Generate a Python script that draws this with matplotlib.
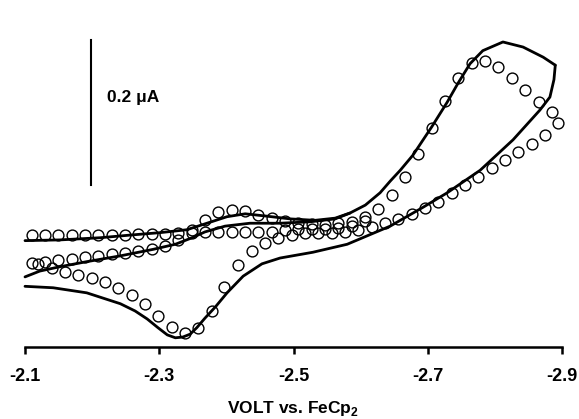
import matplotlib
matplotlib.use("Agg")
import matplotlib.pyplot as plt

plt.rcParams['font.family'] = ['Liberation Sans', 'DejaVu Sans']
plt.rcParams['font.weight'] = 'bold'
plt.rcParams['mathtext.fontset'] = 'custom'
plt.rcParams['mathtext.rm'] = 'Liberation Sans:bold'
plt.rcParams['mathtext.bf'] = 'Liberation Sans:bold'

# ---- experimental CV (solid line), potential in V vs FeCp2, current in uA ----
# first cathodic sweep
exp_fwd1_v = [-2.100, -2.152, -2.212, -2.261, -2.301, -2.341, -2.371, -2.401, -2.428,
              -2.458, -2.495, -2.532, -2.562, -2.584, -2.607, -2.629, -2.644, -2.659,
              -2.678, -2.706, -2.729, -2.745, -2.763, -2.782, -2.812, -2.842, -2.872,
              -2.890]
exp_fwd1_i = [0.006, 0.007, 0.010, 0.014, 0.017, 0.021, 0.030, 0.039, 0.043,
              0.040, 0.036, 0.034, 0.037, 0.044, 0.055, 0.072, 0.088, 0.103,
              0.124, 0.163, 0.197, 0.223, 0.250, 0.268, 0.280, 0.273, 0.259,
              0.248]
# reverse (anodic) sweep
exp_rev_v = [-2.890, -2.888, -2.882, -2.867, -2.827, -2.778, -2.729, -2.693, -2.644,
             -2.580, -2.529, -2.480, -2.453, -2.425, -2.401, -2.384, -2.368, -2.356,
             -2.346, -2.335, -2.324, -2.312, -2.298, -2.282, -2.264, -2.242, -2.192,
             -2.142, -2.100]
exp_rev_i = [0.248, 0.228, 0.204, 0.186, 0.145, 0.103, 0.072, 0.052, 0.026,
             0.001, -0.010, -0.018, -0.026, -0.043, -0.066, -0.085, -0.101, -0.114,
             -0.123, -0.127, -0.128, -0.124, -0.114, -0.102, -0.091, -0.081, -0.066,
             -0.059, -0.057]
# second cathodic sweep
exp_fwd2_v = [-2.100, -2.122, -2.152, -2.192, -2.242, -2.291, -2.324, -2.349, -2.368,
              -2.398, -2.435, -2.480, -2.525, -2.562, -2.584]
exp_fwd2_i = [-0.044, -0.036, -0.030, -0.023, -0.015, -0.006, 0.001, 0.010, 0.018,
              0.026, 0.030, 0.030, 0.032, 0.036, 0.044]

# ---- simulated CV (open circles) ----
sim_fwd1_v = [-2.110, -2.130, -2.149, -2.170, -2.189, -2.209, -2.230, -2.249, -2.268,
              -2.289, -2.309, -2.328, -2.349, -2.368, -2.388, -2.408, -2.428, -2.447,
              -2.468, -2.487, -2.507, -2.528, -2.547, -2.566, -2.587, -2.607, -2.626,
              -2.647, -2.666, -2.685, -2.706, -2.726, -2.745, -2.766, -2.785, -2.805,
              -2.826, -2.845, -2.866, -2.885, -2.894]
sim_fwd1_i = [0.014, 0.014, 0.014, 0.014, 0.014, 0.014, 0.014, 0.014, 0.015,
              0.015, 0.015, 0.017, 0.021, 0.034, 0.046, 0.048, 0.047, 0.041,
              0.037, 0.033, 0.030, 0.029, 0.028, 0.030, 0.032, 0.039, 0.050,
              0.069, 0.094, 0.126, 0.161, 0.199, 0.230, 0.251, 0.254, 0.246,
              0.230, 0.214, 0.197, 0.183, 0.168]
sim_rev_v = [-2.875, -2.855, -2.835, -2.815, -2.796, -2.775, -2.756, -2.736, -2.715,
             -2.696, -2.677, -2.656, -2.636, -2.617, -2.596, -2.577, -2.557, -2.537,
             -2.517, -2.498, -2.477, -2.458, -2.438, -2.417, -2.397, -2.379, -2.358,
             -2.338, -2.319, -2.298, -2.279, -2.259, -2.239, -2.219, -2.200, -2.179,
             -2.160, -2.140, -2.119]
sim_rev_i = [0.152, 0.139, 0.128, 0.117, 0.106, 0.094, 0.083, 0.072, 0.059,
             0.051, 0.043, 0.036, 0.030, 0.025, 0.021, 0.018, 0.017, 0.017,
             0.017, 0.014, 0.010, 0.003, -0.008, -0.028, -0.058, -0.091, -0.114,
             -0.121, -0.113, -0.098, -0.081, -0.069, -0.059, -0.051, -0.046, -0.041,
             -0.037, -0.032, -0.026]
sim_fwd2_v = [-2.110, -2.130, -2.149, -2.170, -2.189, -2.209, -2.230, -2.249, -2.268,
              -2.289, -2.309, -2.328, -2.349, -2.368, -2.388, -2.408, -2.428, -2.447,
              -2.468, -2.487, -2.507, -2.528, -2.547, -2.566, -2.587, -2.607]
sim_fwd2_i = [-0.025, -0.023, -0.021, -0.019, -0.017, -0.015, -0.012, -0.011, -0.008,
              -0.006, -0.001, 0.007, 0.017, 0.018, 0.018, 0.018, 0.018, 0.018,
              0.018, 0.021, 0.022, 0.022, 0.022, 0.023, 0.026, 0.033]

xticks = [-2.1, -2.3, -2.5, -2.7, -2.9]
xtick_labels = ['-2.1', '-2.3', '-2.5', '-2.7', '-2.9']

# scale bar: 0.2 uA
bar_v = -2.198
bar_i = [0.083, 0.283]

fig = plt.figure(figsize=(5.79, 4.19), dpi=100)
ax = fig.add_axes([25 / 579, 72 / 419, 537 / 579, 327 / 419])

line_kw = dict(color='black', lw=2.0, solid_capstyle='round', solid_joinstyle='round', clip_on=False)
ax.plot(exp_fwd1_v, exp_fwd1_i, **line_kw)
ax.plot(exp_rev_v, exp_rev_i, **line_kw)
ax.plot(exp_fwd2_v, exp_fwd2_i, **line_kw)

circ_kw = dict(ls='none', marker='o', ms=7.8, mfc='none', mec='black', mew=1.0, clip_on=False)
ax.plot(sim_fwd1_v, sim_fwd1_i, **circ_kw)
ax.plot(sim_rev_v, sim_rev_i, **circ_kw)
ax.plot(sim_fwd2_v, sim_fwd2_i, **circ_kw)

# scale bar
ax.plot([bar_v, bar_v], bar_i, color='black', lw=1.5)
ax.text(-2.222, 0.203, '0.2 μA', ha='left', va='center', fontsize=12.5, fontweight='bold')

ax.set_xlim(-2.1, -2.9)
ax.set_ylim(-0.1407, 0.3103)
ax.set_xticks(xticks)
ax.set_xticklabels(xtick_labels, fontsize=13, fontweight='bold')
ax.set_yticks([])
for side in ['top', 'right', 'left']:
    ax.spines[side].set_visible(False)
ax.spines['bottom'].set_linewidth(1.8)
ax.tick_params(axis='x', direction='out', length=5, width=1.8, pad=10)
ax.set_xlabel(r'VOLT vs. FeCp$_\mathbf{2}$', fontsize=12.5, fontweight='bold', labelpad=10)

fig.savefig('out.png', dpi=100)
